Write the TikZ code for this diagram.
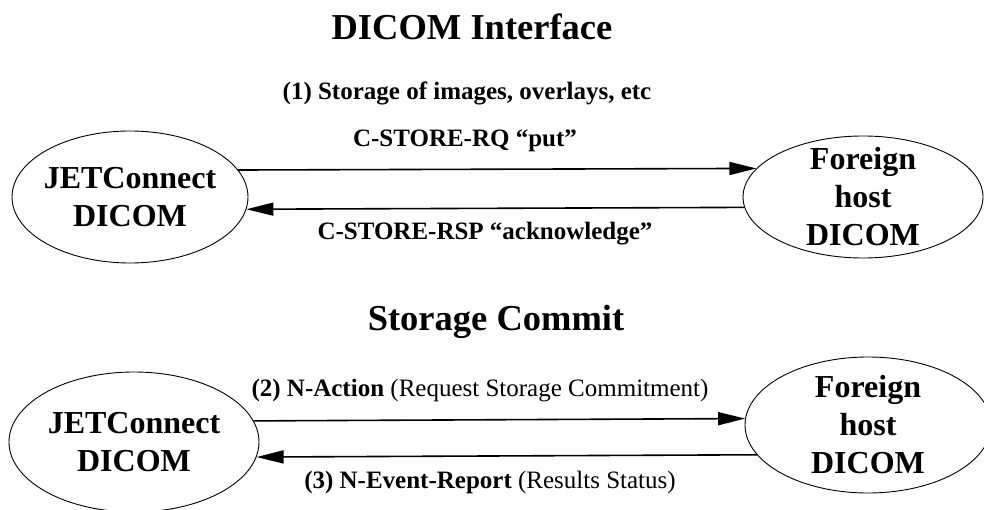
\documentclass[tikz,border=0pt]{standalone}
\usepackage{fontspec}
\setmainfont{Liberation Serif}
\usetikzlibrary{shapes.geometric,arrows.meta}
\begin{document}
\begin{tikzpicture}[x=1pt,y=-1pt,
  ell/.style={draw, ellipse, line width=0.9pt, inner sep=0pt},
  ntext/.style={align=center, font=\fontsize{32}{38}\selectfont\bfseries, inner sep=0pt},
  ttl/.style={anchor=base, font=\fontsize{36.5}{40}\selectfont\bfseries, inner sep=0pt},
  lbl/.style={anchor=base, font=\fontsize{25}{30}\selectfont\bfseries, inner sep=0pt},
  lblr/.style={anchor=base, font=\fontsize{25}{30}\selectfont, inner sep=0pt},
  arr/.style={line width=1.6pt, -{Triangle[length=27pt,width=13pt]}}]
\useasboundingbox (0,0) rectangle (984,510);

% titles
\node[ttl] (t1) at (472,40) {DICOM Interface};
\node[ttl] (t2) at (496,330) {Storage Commit};

% top section
\node[ell, minimum width=236pt, minimum height=132pt] (tl) at (130,197) {};
\node[ntext] (tlt) at (tl.center) {JETConnect\\DICOM};
\node[ell, minimum width=240pt, minimum height=122pt] (tr) at (863,197) {};
\node[ntext] (trt) at (tr.center) {Foreign\\host\\DICOM};

\node[lbl] (l1) at (467,100) {(1) Storage of images, overlays, etc};
\node[lbl] (l2) at (465,147) {C-STORE-RQ “put”};
\node[lbl] (l3) at (485,240) {C-STORE-RSP “acknowledge”};

\draw[arr] (tl.14.07) -- (tr.165.9);
\draw[arr] (tr.185.3) -- (tl.354.6);

% bottom section
\node[ell, minimum width=250pt, minimum height=140pt] (bl) at (134,442) {};
\node[ntext] (blt) at (bl.center) {JETConnect\\DICOM};
\node[ell, minimum width=246pt, minimum height=136pt] (br) at (868,425) {};
\node[ntext] (brt) at (br.center) {Foreign\\host\\DICOM};

\node[lblr] (l4) at (480,396) {\textbf{(2) N-Action} (Request Storage Commitment)};
\node[lblr] (l5) at (490,488) {\textbf{(3) N-Event-Report} (Results Status)};

\draw[arr] (bl.10.5) -- (br.177.7);
\draw[arr] (br.195.8) -- (bl.353.5);
\end{tikzpicture}
\end{document}
